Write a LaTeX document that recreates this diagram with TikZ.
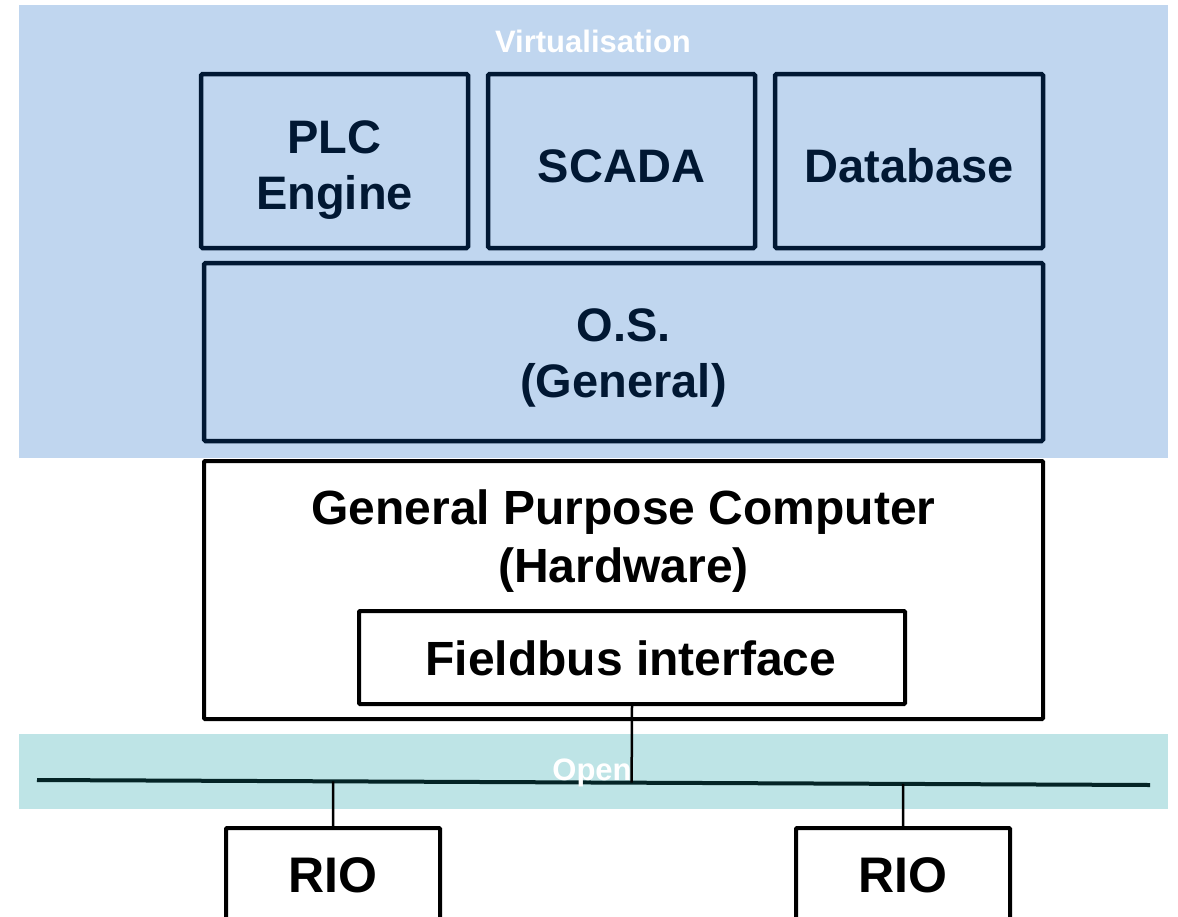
\documentclass[tikz,border=0pt]{standalone}
\usepackage{fontspec}
\setmainfont{Liberation Sans}
\usetikzlibrary{calc}
\definecolor{virtblue}{RGB}{192,214,239}
\definecolor{openteal}{RGB}{190,228,230}
\definecolor{navy}{RGB}{1,24,51}
\definecolor{busdark}{RGB}{4,36,38}
\tikzset{
  layerbox/.style={draw=navy, line width=4.5pt, rounded corners=1.5pt, inner sep=0pt},
  layertext/.style={text=navy, align=center, anchor=base, inner sep=0pt,
    font=\fontsize{47}{56}\selectfont\bfseries},
  hwbox/.style={draw=black, line width=4pt, rounded corners=1pt, fill=white, inner sep=0pt},
  hwtext/.style={text=black, align=center, anchor=base, inner sep=0pt,
    font=\fontsize{48}{58}\selectfont\bfseries},
  bandlabel/.style={text=white, font=\fontsize{31}{36}\selectfont\bfseries, inner sep=0pt, anchor=base},
  busline/.style={draw=busdark, line width=4pt},
  drop/.style={draw=black, line width=2.5pt},
}
\begin{document}
\begin{tikzpicture}[x=1pt, y=-1pt]
\useasboundingbox (0,0) rectangle (1178,916);
\begin{scope}
\clip (0,0) rectangle (1178,916);

% software layers on the virtualisation band
\fill[virtblue] (19,5) rectangle (1168,458);
\node[layerbox, minimum width=267pt, minimum height=174pt] (plc) at (334.5,161) {};
\node[layerbox, minimum width=267pt, minimum height=174pt] (scada) at (621.5,161) {};
\node[layerbox, minimum width=268pt, minimum height=174pt] (db) at (909,161) {};
\node[layerbox, minimum width=839pt, minimum height=178pt] (os) at (623.5,352) {};
\node[layertext] (plctext) at (334.5,209) {PLC\\Engine};
\node[layertext] (scadatext) at (621.5,182) {SCADA};
\node[layertext] (dbtext) at (909,182) {Database};
\node[layertext] (ostext) at (623.5,397) {O.S.\\(General)};

% hardware
\node[hwbox, minimum width=839pt, minimum height=258pt] (gpc) at (623.5,590) {};
\node[hwtext] (gpctext) at (623.5,582) {General Purpose Computer\\(Hardware)};
\node[hwbox, minimum width=546pt, minimum height=93pt] (fb) at (632,657.5) {};
\node[hwtext] (fbtext) at (631,675) {Fieldbus interface};

% open fieldbus band
\fill[openteal] (19,734) rectangle (1168,809);
\coordinate (busL) at (37,780);
\coordinate (busR) at (1150,785);
\draw[busline] (busL) -- (busR);

% remote I/O stations
\node[hwbox, minimum width=214pt, minimum height=134pt, anchor=north] (rio1) at (333,826) {};
\node[hwbox, minimum width=214pt, minimum height=134pt, anchor=north] (rio2) at (903,826) {};
\node[hwtext, font=\fontsize{50}{58}\selectfont\bfseries] (rio1text) at (333,892) {RIO};
\node[hwtext, font=\fontsize{50}{58}\selectfont\bfseries] (rio2text) at (903,892) {RIO};

% drops to the bus
\draw[drop] (fb.south) -- ($(busL)!(fb.south)!(busR)$);
\draw[drop] (rio1.north) -- ($(busL)!(rio1.north)!(busR)$);
\draw[drop] (rio2.north) -- ($(busL)!(rio2.north)!(busR)$);

% band titles
\node[bandlabel] (virt) at (593,52) {Virtualisation};
\node[bandlabel] (open) at (592,780) {Open};
\end{scope}
\end{tikzpicture}
\end{document}
